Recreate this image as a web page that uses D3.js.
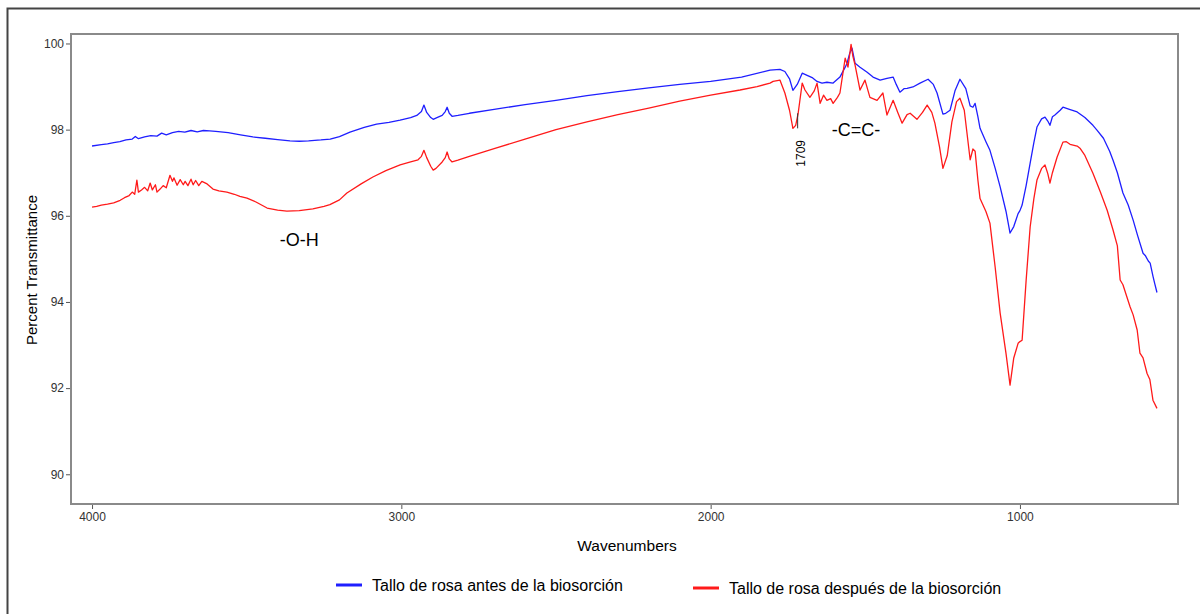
<!DOCTYPE html>
<html>
<head>
<meta charset="utf-8">
<script src="https://cdn.jsdelivr.net/npm/d3@7"></script>
<style>
	body {margin:0; background:#fff;}
	svg {display:block; font-family:"Liberation Sans", Arial, sans-serif;}
	.tick text {font-family:"Liberation Sans Narrow","Liberation Sans",Arial,sans-serif; font-size:12px; fill:#333;}
</style>
</head>
<body>
<div id="chart"></div>
<script>
//Spectrum before biosorption (wavenumber, %T)
var beforeWn = [4000,3970,3950,3930,3910,3890,3870,3860,3850,3830,3810,3790,3775,3760,3740,3720,3700,3680,3660,3640,3620,3600,3560,3520,3480,3440,3400,3360,3330,3300,3260,3230,3200,3166,3120,3080,3040,3004,2970,2950,2935,2927,2918,2905,2897,2885,2868,2858,2852,2845,2836,2817,2780,2700,2600,2500,2400,2300,2200,2100,2000,1900,1808,1776,1760,1745,1734,1720,1704,1688,1670,1656,1640,1624,1604,1582,1565,1559,1550,1543,1533,1517,1494,1475,1452,1430,1410,1400,1388,1375,1365,1346,1323,1297,1280,1268,1249,1240,1226,1210,1194,1175,1161,1152,1145,1136,1129,1110,1097,1080,1064,1045,1032,1020,1006,1000,993,980,967,955,945,930,919,910,903,895,887,870,861,840,815,790,764,751,730,710,699,685,667,650,634,620,602,595,585,579,570,564,557];
var beforeT = [97.62,97.65,97.67,97.70,97.72,97.76,97.78,97.84,97.79,97.83,97.86,97.85,97.92,97.88,97.93,97.96,97.94,97.98,97.95,97.98,97.97,97.96,97.93,97.88,97.83,97.80,97.77,97.74,97.73,97.74,97.76,97.78,97.84,97.94,98.05,98.13,98.17,98.22,98.28,98.33,98.42,98.57,98.40,98.28,98.24,98.28,98.33,98.42,98.52,98.38,98.31,98.33,98.38,98.47,98.58,98.68,98.79,98.88,98.97,99.05,99.12,99.22,99.38,99.40,99.35,99.18,98.91,99.05,99.31,99.26,99.20,99.12,99.08,99.10,99.08,99.22,99.45,99.54,99.78,99.89,99.54,99.45,99.33,99.22,99.15,99.19,99.22,99.05,98.87,98.95,98.96,98.99,99.08,99.17,99.05,98.85,98.36,98.38,98.45,98.90,99.17,98.95,98.55,98.52,98.61,98.30,98.03,97.72,97.52,97.10,96.67,96.10,95.60,95.75,96.05,96.12,96.25,96.70,97.22,97.70,98.06,98.25,98.29,98.20,98.10,98.30,98.34,98.45,98.52,98.47,98.41,98.28,98.10,97.99,97.80,97.50,97.29,97.00,96.53,96.25,95.90,95.55,95.13,95.08,94.95,94.90,94.60,94.42,94.22];

//Spectrum after biosorption (wavenumber, %T)
var afterWn = [4000,3985,3970,3950,3930,3909,3895,3880,3870,3862,3855,3850,3840,3830,3820,3812,3805,3795,3790,3780,3770,3760,3748,3740,3735,3725,3715,3705,3699,3690,3680,3673,3665,3655,3645,3628,3609,3590,3564,3540,3522,3499,3470,3434,3400,3370,3330,3286,3250,3231,3200,3176,3130,3092,3050,3004,2970,2946,2935,2927,2918,2905,2897,2888,2868,2858,2852,2845,2836,2817,2780,2700,2600,2500,2400,2300,2200,2100,2000,1905,1850,1808,1798,1776,1760,1745,1734,1725,1717,1704,1695,1679,1665,1656,1646,1635,1624,1612,1604,1590,1582,1565,1556,1546,1540,1533,1517,1501,1485,1462,1443,1430,1410,1395,1381,1365,1355,1333,1315,1300,1285,1275,1260,1249,1235,1220,1205,1194,1180,1161,1152,1145,1136,1129,1110,1097,1080,1064,1045,1032,1020,1006,1000,993,980,967,955,945,930,919,910,903,895,880,861,850,838,815,806,790,764,740,718,699,685,676,667,644,634,621,612,602,589,580,570,557];
var afterT = [96.20,96.22,96.25,96.27,96.30,96.36,96.42,96.47,96.55,96.50,96.83,96.55,96.60,96.66,96.58,96.76,96.60,96.72,96.55,96.62,96.70,96.65,96.94,96.80,96.88,96.71,96.84,96.72,96.80,96.70,96.85,96.72,96.82,96.70,96.80,96.74,96.62,96.58,96.55,96.50,96.45,96.41,96.32,96.18,96.13,96.11,96.12,96.16,96.22,96.26,96.37,96.53,96.74,96.90,97.05,97.18,97.25,97.30,97.38,97.52,97.35,97.15,97.06,97.10,97.25,97.35,97.48,97.32,97.25,97.29,97.38,97.56,97.78,98.00,98.18,98.35,98.50,98.66,98.80,98.92,99.00,99.08,99.12,99.15,98.85,98.45,98.03,98.10,98.38,99.08,98.92,98.75,98.90,99.08,98.61,98.80,98.68,98.72,98.61,98.75,98.85,99.66,99.45,99.98,99.70,99.50,98.92,99.15,98.75,98.68,98.85,98.34,98.68,98.40,98.15,98.35,98.38,98.24,98.40,98.57,98.40,98.15,97.60,97.10,97.40,98.18,98.65,98.73,98.45,97.30,97.55,97.50,96.83,96.40,96.10,95.83,94.80,93.74,92.80,92.07,92.70,93.04,93.08,93.11,94.50,95.74,96.40,96.83,97.10,97.18,96.98,96.76,97.00,97.36,97.71,97.72,97.66,97.62,97.57,97.40,96.99,96.55,96.13,95.67,95.30,94.51,94.40,93.89,93.70,93.35,92.81,92.70,92.34,92.20,91.72,91.53];

var xTicks = [4000,3000,2000,1000];
var yTicks = [90,92,94,96,98,100];
var seriesNames = ["Tallo de rosa antes de la biosorción","Tallo de rosa después de la biosorción"];
var seriesColors = ["#1f1fff","#ff1a1a"];

//Sizing
var width = 1200, height = 614;
var plot = {left:71, top:34, right:1178, bottom:504};

var svg = d3.select('#chart').append('svg')
	.attr('width',width)
	.attr('height',height);

//Outer frame (right/bottom run off the page)
svg.append('path')
	.attr('d','M7.5 '+(height+5)+' V8.5 H'+(width+5))
	.attr('fill','none')
	.attr('stroke','#444')
	.attr('stroke-width',2);

//Scales
var x = d3.scaleLinear().domain([4068,489]).range([plot.left,plot.right]);
var y = d3.scaleLinear().domain([89.31,100.22]).range([plot.bottom,plot.top]);

//Plot frame
svg.append('rect')
	.attr('x',plot.left).attr('y',plot.top)
	.attr('width',plot.right-plot.left).attr('height',plot.bottom-plot.top)
	.attr('fill','none')
	.attr('stroke','#8a8a8a')
	.attr('stroke-width',2);

//Axes
var xAxis = svg.append('g')
	.attr('transform','translate(0,'+(plot.bottom+1)+')')
	.call(d3.axisBottom(x).tickValues(xTicks).tickSize(4).tickPadding(3).tickFormat(d3.format('d')));
xAxis.select('.domain').remove();
xAxis.selectAll('line').attr('stroke','#555');

var yAxis = svg.append('g')
	.attr('transform','translate('+(plot.left-1)+',0)')
	.call(d3.axisLeft(y).tickValues(yTicks).tickSize(4).tickPadding(2));
yAxis.select('.domain').remove();
yAxis.selectAll('line').attr('stroke','#555');

//Axis titles
svg.append('text')
	.attr('x',627).attr('y',551)
	.attr('text-anchor','middle')
	.style('font-size','15.5px')
	.text('Wavenumbers');
svg.append('text')
	.attr('transform','translate(37,270) rotate(-90)')
	.attr('text-anchor','middle')
	.style('font-size','15px')
	.text('Percent Transmittance');

//Spectra
var line = d3.line()
	.x(function(d){return x(d[0]);})
	.y(function(d){return y(d[1]);});
var series = [
	d3.zip(beforeWn,beforeT),
	d3.zip(afterWn,afterT)
];
svg.append('g').selectAll('path')
	.data(series)
	.enter().append('path')
		.attr('d',line)
		.attr('fill','none')
		.attr('stroke',function(d,i){return seriesColors[i];})
		.attr('stroke-width',1.3)
		.attr('stroke-linejoin','round');

//Annotations
svg.append('line')
	.attr('x1',x(1709)-3).attr('x2',x(1709)-3)
	.attr('y1',y(98.38)).attr('y2',y(98.03))
	.attr('stroke','#333').attr('stroke-width',1);
svg.append('text')
	.attr('transform','translate('+(x(1709)+4)+','+y(97.45)+') rotate(-90)')
	.attr('text-anchor','middle')
	.style('font-size','12px')
	.text('1709');
svg.append('text')
	.attr('x',x(1530)).attr('y',y(97.85))
	.attr('text-anchor','middle')
	.style('font-size','18px')
	.text('-C=C-');
svg.append('text')
	.attr('x',x(3330)).attr('y',y(95.3))
	.attr('text-anchor','middle')
	.style('font-size','18px')
	.text('-O-H');

//Legend
var legend = svg.append('g').selectAll('g')
	.data(seriesNames)
	.enter().append('g')
		.attr('transform',function(d,i){return 'translate('+(i ? 693 : 336)+','+(i ? 588 : 585)+')';});
legend.append('line')
	.attr('x1',0).attr('x2',26)
	.attr('stroke',function(d,i){return seriesColors[i];})
	.attr('stroke-width',3);
legend.append('text')
	.attr('x',36).attr('y',5.5)
	.style('font-size','16px')
	.text(function(d){return d;});
</script>
</body>
</html>
